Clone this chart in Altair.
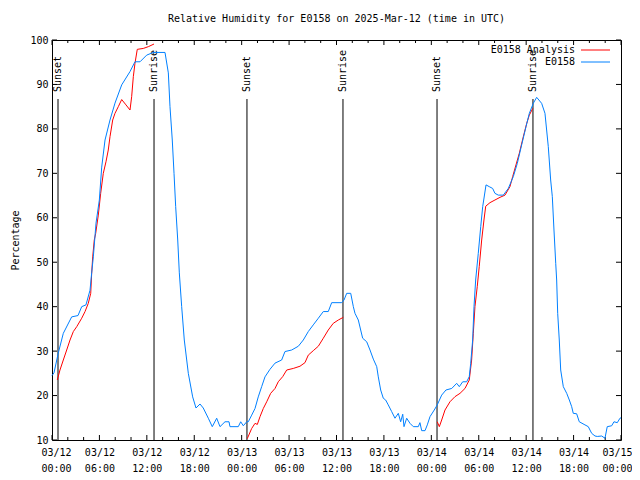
import altair as alt
import pandas as pd

# ---------------- data ----------------
blue_hours = [0.0, 0.25, 0.80, 1.43, 2.49, 3.29, 3.76, 4.30, 4.81, 5.02, 5.23, 5.57, 5.99, 6.29, 6.71,
              7.34, 7.97, 8.82, 9.87, 10.50, 11.14, 11.98, 12.82, 14.30, 14.72, 14.93, 15.22, 15.44,
              15.65, 15.91, 16.11, 16.41, 16.74, 17.25, 17.80, 18.22, 18.73, 19.14, 19.78, 20.28,
              20.84, 21.26, 21.89, 22.40, 22.52, 23.57, 23.88, 24.21, 24.64, 24.84, 25.27, 25.69,
              26.10, 26.53, 26.95, 27.58, 28.22, 29.06, 29.48, 30.33, 31.17, 31.80, 32.43, 33.06,
              33.70, 34.33, 34.96, 35.39, 36.66, 36.95, 37.29, 37.80, 38.13, 38.34, 38.76, 39.06,
              39.31, 39.82, 40.24, 40.66, 41.09, 41.29, 41.59, 41.92, 42.22, 42.55, 42.98, 43.40,
              43.82, 44.12, 44.38, 44.54, 44.88, 45.30, 45.72, 46.35, 46.56, 46.78, 47.20, 47.49,
              47.83, 48.37, 48.75, 49.31, 49.85, 50.58, 51.21, 51.54, 51.97, 52.47, 52.80, 52.98,
              53.23, 53.40, 53.61, 53.94, 54.25, 54.50, 54.92, 55.33, 55.76, 56.05, 56.47, 57.11,
              57.74, 58.37, 58.88, 59.43, 59.98, 60.40, 60.90, 61.33, 61.96, 62.38, 62.80, 63.10,
              63.31, 63.52, 63.74, 63.86, 63.99, 64.19, 64.37, 64.70, 65.13, 65.46, 65.76, 65.96,
              66.39, 66.72, 67.44, 67.86, 68.29, 68.71, 69.00, 69.56, 69.97, 70.26, 70.82, 71.11,
              71.53, 71.87, 72.0]
blue_values = [24.5, 25.1, 29.6, 34.0, 37.7, 38.0, 40.0, 40.4, 43.7, 47.6, 51.2, 58.8, 64.0, 71.4, 77.5,
               82.0, 85.8, 89.9, 92.9, 95.1, 95.1, 96.6, 97.2, 97.2, 92.6, 85.0, 77.5, 70.0,
               62.5, 55.0, 47.6, 40.0, 32.5, 25.0, 19.7, 17.2, 18.1, 17.2, 14.9, 13.0,
               14.9, 13.0, 14.1, 14.1, 13.0, 13.0, 14.1, 13.2, 14.1, 14.1, 15.6, 17.1,
               19.7, 22.0, 24.2, 25.9, 27.3, 28.0, 29.9, 30.25, 31.1, 32.5, 34.4, 35.9,
               37.4, 38.9, 38.9, 40.9, 40.9, 41.5, 43.0, 43.0, 40.0, 38.5, 37.0, 34.75,
               32.9, 32.1, 30.25, 28.2, 26.5, 24.2, 21.25, 19.4, 19.0, 17.9, 16.4, 14.9,
               16.0, 14.1, 15.8, 13.0, 14.9, 13.75, 13.0, 13.0, 13.9, 12.1, 12.1, 13.4,
               15.25, 16.75, 17.9, 20.1, 21.25, 21.6, 22.75, 22.0, 23.1, 23.1, 24.25, 27.25,
               32.5, 40.0, 46.0, 52.0, 58.0, 62.5, 67.4, 67.0, 66.6, 65.5, 65.1, 65.1,
               66.6, 69.25, 72.25, 76.4, 80.5, 83.5, 85.75, 87.1, 85.75, 83.5, 76.0, 68.5,
               64.75, 57.25, 49.75, 46.0, 38.5, 32.5, 25.75, 22.0, 20.5, 19.0, 17.5, 16.0,
               15.9, 14.1, 13.4, 13.0, 11.5, 10.9, 10.8, 10.9, 10.4, 13.0, 13.2, 14.1,
               13.9, 14.9, 15.0]

red1_hours = [0.67, 1.01, 1.43, 1.86, 2.28, 2.70, 3.13, 3.76, 4.18, 4.59, 4.90, 5.02, 5.15, 5.35,
              5.53, 5.86, 6.16, 6.49, 6.83, 7.12, 7.34, 7.68, 7.97, 8.39, 8.82, 9.36, 9.87, 10.08,
              10.29, 10.50, 10.79, 11.55, 12.19, 12.91]
red1_values = [23.5, 25.75, 28.0, 30.25, 32.5, 34.4, 35.5, 37.4, 38.9, 40.75, 43.0, 47.5, 51.2, 55.0,
               56.5, 60.6, 65.5, 70.0, 72.6, 75.25, 78.25, 82.0, 83.5, 85.0, 86.6, 85.4, 84.25, 87.25,
               91.75, 94.75, 97.9, 98.1, 98.5, 99.1]
red2_hours = [24.71, 25.27, 25.69, 25.98, 26.32, 26.74, 27.17, 27.67, 28.22, 28.63, 29.19, 29.70,
              30.53, 31.38, 32.01, 32.43, 33.06, 33.70, 34.33, 34.96, 35.59, 36.23, 36.86]
red2_values = [10.3, 12.6, 13.75, 13.5, 15.25, 17.1, 18.6, 20.5, 21.6, 23.1, 24.25, 25.75,
               26.1, 26.6, 27.4, 29.1, 30.1, 31.1, 32.9, 34.75, 36.25, 37.0, 37.6]
red3_hours = [48.75, 49.01, 49.31, 49.73, 50.36, 50.99, 51.63, 52.26, 52.80, 53.10, 53.31, 53.52,
              53.81, 54.06, 54.37, 54.66, 54.88, 55.42, 56.05, 56.69, 57.32, 57.95, 58.29, 58.71,
              59.13, 59.64, 60.07, 60.40, 60.83]
red3_values = [14.1, 13.0, 14.5, 16.75, 18.6, 19.75, 20.5, 21.6, 23.5, 28.0, 34.0, 40.0,
               44.5, 49.0, 55.0, 59.5, 62.6, 63.4, 64.0, 64.6, 65.1, 67.0, 69.25, 71.9,
               74.5, 78.25, 81.25, 83.1, 84.6]

sun_hours = [0.76, 12.91, 24.67, 36.82, 48.72, 60.86]
sun_labels = ["Sunset", "Sunrise", "Sunset", "Sunrise", "Sunset", "Sunrise"]

series_names = ["E0158 Analysis", "E0158"]
series_colors = ["#ff0000", "#0080ff"]

major_ticks = [0, 6, 12, 18, 24, 30, 36, 42, 48, 54, 60, 66, 72]
tick_dates = ["03/12", "03/12", "03/12", "03/12", "03/13", "03/13", "03/13",
              "03/13", "03/14", "03/14", "03/14", "03/14", "03/15"]
tick_times = ["00:00", "06:00", "12:00", "18:00", "00:00", "06:00", "12:00",
              "18:00", "00:00", "06:00", "12:00", "18:00", "00:00"]
minor_ticks = [h for h in range(0, 73, 2) if h % 6 != 0]
y_ticks = [10, 20, 30, 40, 50, 60, 70, 80, 90, 100]

# ---------------- tables ----------------
rows = []
for h, v in zip(blue_hours, blue_values):
    rows.append({"hour": h, "value": v, "series": "E0158", "seg": "b"})
for seg, (hs, vs) in enumerate([(red1_hours, red1_values), (red2_hours, red2_values),
                                 (red3_hours, red3_values)]):
    for h, v in zip(hs, vs):
        rows.append({"hour": h, "value": v, "series": "E0158 Analysis", "seg": f"r{seg}"})
lines_df = pd.DataFrame(rows)
sun_df = pd.DataFrame({"hour": sun_hours, "label": sun_labels})
major_df = pd.DataFrame({"hour": major_ticks})
minor_df = pd.DataFrame({"hour": minor_ticks})
ytick_df = pd.DataFrame({"value": y_ticks})
legend_df = pd.DataFrame({"series": series_names})

FONT = "DejaVu Sans Mono"
W, H = 569, 400

vals_js = "[" + ",".join(str(v) for v in major_ticks) + "]"
dates_js = "[" + ",".join(f"'{d}'" for d in tick_dates) + "]"
times_js = "[" + ",".join(f"'{t}'" for t in tick_times) + "]"
label_expr = (f"[{dates_js}[indexof({vals_js}, datum.value)], "
              f"{times_js}[indexof({vals_js}, datum.value)]]")

x_enc = alt.X("hour:Q",
              scale=alt.Scale(domain=[0, 72], nice=False, zero=False),
              axis=alt.Axis(values=major_ticks, labelExpr=label_expr, title=None,
                            tickSize=0, domain=False, grid=False, labelAngle=0,
                            labelPadding=7, labelLineHeight=16, labelFontSize=10,
                            labelFont=FONT, labelColor="black", labelOverlap=False,
                            labelBaseline="top", labelFlush=True, labelFlushOffset=11))
y_enc = alt.Y("value:Q",
              scale=alt.Scale(domain=[10, 100], nice=False, zero=False),
              axis=alt.Axis(values=y_ticks, tickSize=0, domain=False, grid=False,
                            labelPadding=4, labelFontSize=10, labelFont=FONT,
                            labelColor="black", title="Percentage", titleFont=FONT,
                            titleFontSize=10, titleFontWeight="normal", titleColor="black",
                            titleAngle=270, titleBaseline="bottom", titleAlign="center",
                            titleX=-32, titleY=H / 2, labelFlush=False))

color_enc = alt.Color("series:N",
                      scale=alt.Scale(domain=series_names, range=series_colors),
                      legend=None)

base = alt.Chart(lines_df)
red = base.transform_filter(alt.datum.series == "E0158 Analysis").mark_line(
    strokeWidth=1).encode(x=x_enc, y=y_enc, color=color_enc, detail="seg:N")
blue = base.transform_filter(alt.datum.series == "E0158").mark_line(
    strokeWidth=1).encode(x=x_enc, y=y_enc, color=color_enc, detail="seg:N")

sun_rules = alt.Chart(sun_df).mark_rule(color="black", strokeWidth=1).encode(
    x=x_enc, y=alt.value(59), y2=alt.value(H))
sun_text = alt.Chart(sun_df).mark_text(angle=270, align="left", baseline="middle",
                                       font=FONT, fontSize=10, color="black").encode(
    x=x_enc, y=alt.value(52), text="label:N")

maj_b = alt.Chart(major_df).mark_rule(color="black").encode(
    x=x_enc, y=alt.value(H), y2=alt.value(H - 5))
maj_t = alt.Chart(major_df).mark_rule(color="black").encode(
    x=x_enc, y=alt.value(0), y2=alt.value(5))
min_b = alt.Chart(minor_df).mark_rule(color="black").encode(
    x=x_enc, y=alt.value(H), y2=alt.value(H - 3))
min_t = alt.Chart(minor_df).mark_rule(color="black").encode(
    x=x_enc, y=alt.value(0), y2=alt.value(3))
yt_l = alt.Chart(ytick_df).mark_rule(color="black").encode(
    y=y_enc, x=alt.value(0), x2=alt.value(5))
yt_r = alt.Chart(ytick_df).mark_rule(color="black").encode(
    y=y_enc, x=alt.value(W), x2=alt.value(W - 5))

legend_layers = []
for i, name in enumerate(series_names):
    legend_layers.append(
        alt.Chart(legend_df).transform_filter(alt.datum.series == name).mark_text(
            align="right", baseline="middle", font=FONT, fontSize=10, color="black"
        ).encode(x=alt.value(523), y=alt.value(10 + 12 * i), text="series:N"))
    legend_layers.append(
        alt.Chart(legend_df).transform_filter(alt.datum.series == name).mark_rule(
            strokeWidth=1
        ).encode(x=alt.value(529), x2=alt.value(558), y=alt.value(10 + 12 * i),
                 color=color_enc))

chart = alt.layer(
    maj_b, maj_t, min_b, min_t, yt_l, yt_r, sun_rules, sun_text, red, blue, *legend_layers
).properties(
    width=W, height=H,
    title=alt.TitleParams("Relative Humidity for E0158 on 2025-Mar-12 (time in UTC)",
                          font=FONT, fontSize=10, fontWeight="normal", color="black",
                          anchor="middle", offset=11),
    autosize=alt.AutoSizeParams(type="none"),
    padding={"left": 44, "top": 32, "right": 11, "bottom": 32},
).configure(font=FONT).configure_view(stroke="black", strokeWidth=1)

chart.save("out.html", embed_options={"renderer": "svg", "actions": False})
